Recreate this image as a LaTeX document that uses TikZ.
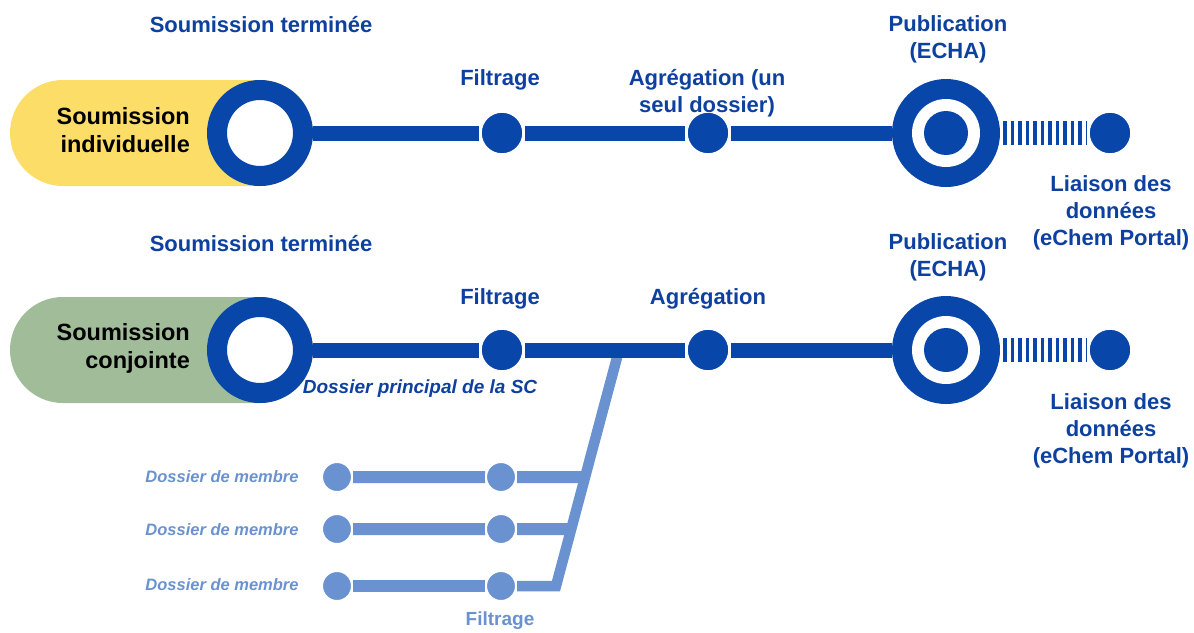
\documentclass[tikz,border=0pt]{standalone}
\usepackage{fontspec}
\setmainfont{Liberation Sans}
\usetikzlibrary{calc}
\definecolor{dblue}{RGB}{8,70,170}
\definecolor{tblue}{RGB}{14,64,160}
\definecolor{lblue}{RGB}{106,146,208}
\definecolor{pyellow}{RGB}{252,221,104}
\definecolor{pgreen}{RGB}{160,188,152}
\pgfdeclarelayer{bg}
\pgfsetlayers{bg,main}
\begin{document}
\begin{tikzpicture}[x=1pt,y=-1pt,
  lab/.style={text=tblue, font=\bfseries\fontsize{22}{27}\selectfont, align=center, inner sep=0},
  pilltext/.style={text=black, font=\bfseries\fontsize{23.5}{28}\selectfont, align=right, inner sep=0, anchor=east},
  italab/.style={text=tblue, font=\bfseries\itshape\fontsize{19}{22}\selectfont, inner sep=0},
  memlab/.style={text=lblue, font=\bfseries\itshape\fontsize{16.5}{20}\selectfont, inner sep=0},
  ringnode/.style={circle, draw=dblue, line width=20pt, fill=white, minimum size=86pt, inner sep=0},
  bigdot/.style={circle, fill=dblue, draw=white, line width=2.5pt, minimum size=43pt, inner sep=0},
  pubouter/.style={circle, fill=dblue, minimum size=108pt, inner sep=0},
  pubwhite/.style={circle, fill=white, minimum size=68pt, inner sep=0},
  pubcore/.style={circle, fill=dblue, minimum size=44pt, inner sep=0},
  mdot/.style={circle, fill=lblue, draw=white, line width=2pt, minimum size=30pt, inner sep=0},
  mainline/.style={draw=dblue, line width=15pt},
  dashconn/.style={draw=dblue, line width=24pt, dash pattern=on 3.5pt off 4pt, shorten <=3pt},
  memline/.style={draw=lblue, line width=12pt},
  diagline/.style={draw=lblue, line width=10.5pt, line cap=butt, line join=miter}
]
\useasboundingbox (0,0) rectangle (1194,632);

% ---------- row 1 ----------
\node[ringnode] (s1) at (260,133) {};
\node[bigdot] (f1) at (502,133) {};
\node[bigdot] (a1) at (708,133) {};
\node[pubouter] (p1) at (946,133) {};
\node[pubwhite] (p1w) at (p1) {};
\node[pubcore] (p1c) at (p1) {};
\node[bigdot] (e1) at (1110,133) {};

% ---------- row 2 ----------
\node[ringnode] (s2) at (260,350) {};
\node[bigdot] (f2) at (502,350) {};
\node[bigdot] (a2) at (708,350) {};
\node[pubouter] (p2) at (946,350) {};
\node[pubwhite] (p2w) at (p2) {};
\node[pubcore] (p2c) at (p2) {};
\node[bigdot] (e2) at (1110,350) {};

% ---------- member files ----------
\node[mdot] (m1) at (337,477) {};
\node[mdot] (mf1) at (501,477) {};
\node[mdot] (m2) at (337,529) {};
\node[mdot] (mf2) at (501,529) {};
\node[mdot] (m3) at (337,586) {};
\node[mdot] (mf3) at (501,586) {};
\coordinate (j) at (619,350);
\coordinate (k) at (556,586);
\coordinate (b1) at ($(j)!{(477-350)/(586-350)}!(k)$);
\coordinate (b2) at ($(j)!{(529-350)/(586-350)}!(k)$);

\begin{pgfonlayer}{bg}
  \fill[white] (0,0) rectangle (1194,632);
  % pills
  \fill[pyellow, rounded corners=53pt] (10,80) rectangle (313,186);
  \fill[pgreen, rounded corners=53pt] (10,297) rectangle (313,403);
  \draw[memline] (m1) -- (mf1) -- (b1);
  \draw[memline] (m2) -- (mf2) -- (b2);
  \draw[memline] (m3) -- (mf3);
  \draw[diagline] (mf3) -- (k) -- (j);
  \draw[mainline] (s1) -- (f1) -- (a1) -- (p1);
  \draw[mainline] (s2) -- (f2) -- (a2) -- (p2);
\end{pgfonlayer}
\draw[dashconn] (p1.east) -- (e1.west);
\draw[dashconn] (p2.east) -- (e2.west);

% ---------- labels ----------
\node[pilltext] (t1) at (190,130) {Soumission\\individuelle};
\node[pilltext] (t2) at (190,348) {Soumission\\conjointe};

\node[lab] (l1) at (261,25) {Soumission terminée};
\node[lab] (l2) at (500,80) {Filtrage};
\node[lab] (l3) at (707,93) {Agrégation (un\\seul dossier)};
\node[lab] (l4) at (948,39) {Publication\\(ECHA)};
\node[lab] (l5) at (1111,213) {Liaison des\\données\\(eChem Portal)};

\node[lab] (l6) at (261,244) {Soumission terminée};
\node[lab] (l7) at (500,299) {Filtrage};
\node[lab] (l8) at (708,299) {Agrégation};
\node[lab] (l9) at (948,257) {Publication\\(ECHA)};
\node[lab] (l10) at (1111,431) {Liaison des\\données\\(eChem Portal)};

\node[italab] (l11) at (420,389) {Dossier principal de la SC};
\node[memlab] (l12) at (222,477) {Dossier de membre};
\node[memlab] (l13) at (222,530) {Dossier de membre};
\node[memlab] (l14) at (222,585) {Dossier de membre};
\node[lab, text=lblue, font=\bfseries\fontsize{19}{22}\selectfont] (l15) at (500,621) {Filtrage};
\end{tikzpicture}
\end{document}
